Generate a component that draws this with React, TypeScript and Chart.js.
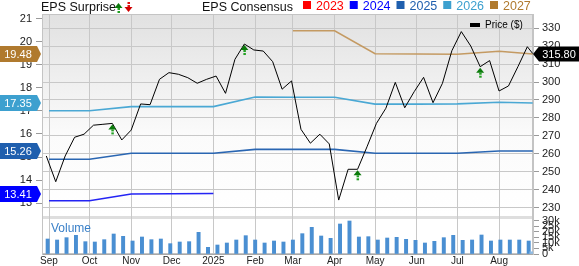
import React, { useEffect, useRef } from 'react';
import { Chart, registerables } from 'chart.js';

Chart.register(...registerables);

const FONT = "'Liberation Sans', Arial, Helvetica, sans-serif";

// ---------------- data ----------------
const monthTickDates = ['2024-09-01', '2024-10-01', '2024-11-01', '2024-12-01', '2025-01-01', '2025-02-01', '2025-03-01', '2025-04-01', '2025-05-01', '2025-06-01', '2025-07-01', '2025-08-01'];
const monthTickLabels = ['Sep', 'Oct', 'Nov', 'Dec', '2025', 'Feb', 'Mar', 'Apr', 'May', 'Jun', 'Jul', 'Aug'];

const priceTicks = [230, 240, 250, 260, 270, 280, 290, 300, 310, 320, 330];
const epsTicks = [13, 14, 15, 16, 17, 18, 19, 20, 21];
const volumeTicks = [0, 5000, 10000, 15000, 20000, 25000, 30000];
const volumeTickLabels = ['0', '5k', '10k', '15k', '20k', '25k', '30k'];

// weekly closing prices, first week and the last (partial week) date
const priceFirstWeek = '2024-08-30';
const priceLastDate = '2025-08-26';
const priceValues = [
  258.9, 244.6, 258.9, 269.3, 271.0, 276.0, 276.5, 277.0, 267.8, 273.3,
  287.8, 287.4, 301.5, 305.2, 304.3, 302.4, 299.3, 301.5, 303.3, 293.7,
  312.6, 321.1, 317.8, 317.2, 311.3, 296.0, 300.6, 273.7, 266.0, 271.0,
  265.6, 234.4, 251.5, 251.5, 264.0, 277.0, 285.4, 299.8, 285.7, 294.6,
  302.6, 288.5, 299.3, 317.4, 328.0, 320.0, 308.5, 311.9, 295.0, 297.8,
  308.5, 319.6, 315.80,
];

// weekly volume
const volumeFirstWeek = '2024-08-31';
const volumeLastDate = '2025-08-25';
const volumeValues = [
  13500, 12600, 14700, 16800, 11100, 10800, 12900, 18000, 15900, 11700,
  15300, 12900, 13500, 9300, 10800, 11100, 19500, 6000, 8100, 9900,
  12600, 16500, 12600, 9900, 11700, 10800, 12600, 18300, 24000, 16200,
  14100, 27000, 29700, 15300, 15600, 12600, 14400, 15000, 13200, 12300,
  9900, 11400, 14700, 16800, 12300, 12600, 17100, 11700, 12600, 12600,
  12600, 11700, 2000,
];

// EPS consensus (fiscal years)
const consensusDates = ['2024-09-01', '2024-10-01', '2024-11-01', '2024-12-01', '2025-01-01', '2025-02-01', '2025-03-01', '2025-04-01', '2025-05-01', '2025-06-01', '2025-07-01', '2025-08-01', '2025-08-26'];
const consensus2023: (number | null)[] = [null, null, null, null, null, null, null, null, null, null, null, null, null];
const consensus2024: (number | null)[] = [13.10, 13.10, 13.39, 13.40, 13.41, null, null, null, null, null, null, null, null];
const consensus2025: (number | null)[] = [14.90, 14.90, 15.16, 15.16, 15.16, 15.33, 15.33, 15.33, 15.16, 15.16, 15.16, 15.26, 15.26];
const consensus2026: (number | null)[] = [17.01, 17.01, 17.19, 17.19, 17.19, 17.61, 17.60, 17.60, 17.30, 17.30, 17.31, 17.38, 17.35];
const consensus2027: (number | null)[] = [null, null, null, null, null, null, 20.49, 20.49, 19.49, 19.48, 19.47, 19.60, 19.48];
const consensusYears = ['2023', '2024', '2025', '2026', '2027'];
const consensusSeries = [consensus2023, consensus2024, consensus2025, consensus2026, consensus2027];
const consensusTagColors = ['#ff0000', '#0000ff', '#1f5fae', '#3da0cf', '#b07a2e'];
const consensusLineColors = ['#ff0000', '#2424f4', '#2a66b2', '#4aa8d4', '#c49a62'];

// EPS surprises
const surpriseDates = ['2024-10-18', '2025-01-24', '2025-04-18', '2025-07-18'];
const surprisePrices = [277.0, 321.1, 251.5, 308.5];
const surpriseDirections = ['up', 'up', 'up', 'up'];

// ---------------- helpers ----------------
const BASE = Date.UTC(2024, 8, 1);
const day = (s: string) => {
  const [y, m, d] = s.split('-').map(Number);
  return (Date.UTC(y, m - 1, d) - BASE) / 86400000;
};

const X_MIN = -5.2;
const X_MAX = 359.2;
const PRICE_MIN = 204.44;
const PRICE_MAX = 337.78;
const EPS_MIN = 10.783;
const EPS_MAX = 21.217;
const VOL_MAX = 216000;
const MAIN_BOTTOM = 216;
const VOL_TOP = 219;

const priceData = priceValues.map((v, i) => ({
  x: i === priceValues.length - 1 ? day(priceLastDate) : day(priceFirstWeek) + 7 * i,
  y: v,
}));
const volumeData = volumeValues.map((v, i) => ({
  x: i === volumeValues.length - 1 ? day(volumeLastDate) : day(volumeFirstWeek) + 7 * i,
  y: v,
}));

function upArrow(ctx: CanvasRenderingContext2D, x: number, y: number) {
  ctx.fillStyle = '#0b7a0b';
  ctx.beginPath();
  ctx.moveTo(x, y);
  ctx.lineTo(x + 4, y + 5);
  ctx.lineTo(x - 4, y + 5);
  ctx.closePath();
  ctx.fill();
  ctx.fillStyle = '#22a022';
  ctx.fillRect(x - 1, y + 5, 2.5, 2);
  ctx.fillRect(x - 1, y + 8, 2.5, 2);
}
function downArrow(ctx: CanvasRenderingContext2D, x: number, y: number) {
  ctx.fillStyle = '#e01010';
  ctx.fillRect(x - 1, y - 10, 2.5, 2);
  ctx.fillRect(x - 1, y - 7, 2.5, 2);
  ctx.fillStyle = '#d00000';
  ctx.beginPath();
  ctx.moveTo(x, y);
  ctx.lineTo(x + 4, y - 5);
  ctx.lineTo(x - 4, y - 5);
  ctx.closePath();
  ctx.fill();
}

const decorPlugin = {
  id: 'decor',
  beforeDraw(chart: any) {
    const { ctx, chartArea: a } = chart;
    const w = a.right - a.left;
    ctx.save();
    const g = ctx.createLinearGradient(0, a.top, 0, MAIN_BOTTOM);
    g.addColorStop(0, '#e1e1e1');
    g.addColorStop(0.6, '#fbfbfb');
    g.addColorStop(1, '#ffffff');
    ctx.fillStyle = g;
    ctx.fillRect(a.left, a.top, w, MAIN_BOTTOM - a.top);
    ctx.fillStyle = '#dedede';
    ctx.fillRect(a.left, MAIN_BOTTOM, w, VOL_TOP - MAIN_BOTTOM);
    ctx.fillStyle = '#ffffff';
    ctx.fillRect(a.left, VOL_TOP, w, a.bottom - VOL_TOP);
    ctx.restore();
  },
  beforeDatasetsDraw(chart: any) {
    const { ctx, chartArea: a } = chart;
    ctx.save();
    ctx.strokeStyle = '#c4c4c4';
    ctx.lineWidth = 1;
    ctx.strokeRect(a.left + 0.5, a.top + 0.5, a.right - a.left - 1, a.bottom - a.top - 1);
    ctx.restore();
  },
  afterDatasetsDraw(chart: any) {
    const { ctx, scales } = chart;
    ctx.save();
    surpriseDates.forEach((d, i) => {
      const x = scales.x.getPixelForValue(day(d));
      const y = scales.price.getPixelForValue(surprisePrices[i]);
      if (surpriseDirections[i] === 'up') upArrow(ctx, x, y + 1);
      else downArrow(ctx, x, y - 1);
    });
    ctx.restore();
  },
  afterDraw(chart: any) {
    const { ctx, scales, chartArea: a } = chart;
    ctx.save();

    // volume axis labels (overlapping, as in the original)
    ctx.fillStyle = '#222222';
    ctx.font = `11px ${FONT}`;
    ctx.textAlign = 'left';
    ctx.textBaseline = 'middle';
    volumeTicks.forEach((v, i) => {
      const y = scales.vol.getPixelForValue(v);
      ctx.fillText(volumeTickLabels[i], a.right + 9, y);
    });

    consensusSeries.forEach((s, i) => {
      const vals = s.filter((v) => v !== null) as number[];
      if (!vals.length) return;
      const v = vals[vals.length - 1];
      const y = Math.round(scales.eps.getPixelForValue(v));
      ctx.fillStyle = consensusTagColors[i];
      ctx.beginPath();
      ctx.moveTo(0, y - 8);
      ctx.lineTo(37, y - 8);
      ctx.lineTo(41, y);
      ctx.lineTo(37, y + 8);
      ctx.lineTo(0, y + 8);
      ctx.closePath();
      ctx.fill();
      ctx.fillStyle = '#ffffff';
      ctx.font = `11px ${FONT}`;
      ctx.textAlign = 'center';
      ctx.fillText(v.toFixed(2), 18, y + 0.5);
    });
    const last = priceValues[priceValues.length - 1];
    const py = Math.round(scales.price.getPixelForValue(last));
    ctx.fillStyle = '#000000';
    ctx.beginPath();
    ctx.moveTo(a.right, py);
    ctx.lineTo(a.right + 6, py - 7.5);
    ctx.lineTo(579, py - 7.5);
    ctx.lineTo(579, py + 7.5);
    ctx.lineTo(a.right + 6, py + 7.5);
    ctx.closePath();
    ctx.fill();
    ctx.fillStyle = '#ffffff';
    ctx.font = `11px ${FONT}`;
    ctx.textAlign = 'center';
    ctx.fillText(last.toFixed(2), 559, py + 0.5);

    ctx.textAlign = 'left';
    ctx.textBaseline = 'alphabetic';
    ctx.fillStyle = '#111111';
    ctx.font = `12.5px ${FONT}`;
    ctx.fillText('EPS Surprise', 41, 11);
    upArrow(ctx, 118.5, 3);
    downArrow(ctx, 128.5, 12);
    ctx.fillStyle = '#111111';
    ctx.font = `12.5px ${FONT}`;
    ctx.fillText('EPS Consensus', 202, 11);
    consensusYears.forEach((yr, i) => {
      const x = 303 + 46.75 * i;
      ctx.fillStyle = consensusTagColors[i];
      ctx.fillRect(x, 1, 8, 8);
      ctx.font = `12.5px ${FONT}`;
      ctx.fillText(yr, x + 13, 10);
    });

    ctx.fillStyle = '#000000';
    ctx.fillRect(470, 23, 10, 4);
    ctx.font = `10px ${FONT}`;
    ctx.textBaseline = 'middle';
    ctx.fillText('Price ($)', 485, 25.5);

    ctx.fillStyle = '#3a80c8';
    ctx.font = `12px ${FONT}`;
    ctx.fillText('Volume', 51, 229);
    ctx.restore();
  },
};

export default function App() {
  const ref = useRef<HTMLCanvasElement>(null);
  useEffect(() => {
    const datasets: any[] = [
      {
        type: 'line',
        label: 'Price ($)',
        data: priceData,
        xAxisID: 'x',
        yAxisID: 'price',
        borderColor: '#000000',
        borderWidth: 1,
        pointRadius: 0,
        tension: 0,
        order: 0,
      },
    ];
    consensusSeries.forEach((s, i) => {
      const pts = consensusDates
        .map((d, j) => ({ x: day(d), y: s[j] }))
        .filter((p) => p.y !== null);
      if (!pts.length) return;
      datasets.push({
        type: 'line',
        label: consensusYears[i],
        data: pts,
        xAxisID: 'x',
        yAxisID: 'eps',
        borderColor: consensusLineColors[i],
        borderWidth: 1.6,
        pointRadius: 0,
        tension: 0,
        order: 1,
      });
    });
    datasets.push({
      type: 'bar',
      label: 'Volume',
      data: volumeData,
      xAxisID: 'x',
      yAxisID: 'vol',
      backgroundColor: volumeValues.map((_, i) => (i === volumeValues.length - 1 ? '#8fbbe3' : '#4a8fd2')),
      barThickness: 3.3,
      order: 2,
    });

    const chart = new Chart(ref.current as HTMLCanvasElement, {
      type: 'bar',
      data: { datasets },
      plugins: [decorPlugin],
      options: {
        animation: false,
        responsive: false,
        devicePixelRatio: 1,
        layout: { padding: { top: 14, left: 0, right: 0, bottom: 0 } },
        plugins: { legend: { display: false }, tooltip: { enabled: false } },
        scales: {
          x: {
            type: 'linear',
            position: 'bottom',
            offset: false,
            min: X_MIN,
            max: X_MAX,
            bounds: 'data',
            afterBuildTicks: (s: any) => {
              s.ticks = monthTickDates.map((d) => ({ value: day(d) }));
            },
            afterFit: (s: any) => {
              s.height = 12;
            },
            ticks: {
              autoSkip: false,
              maxRotation: 0,
              padding: 1,
              color: '#222222',
              font: { family: FONT, size: 10 },
              callback: (_v: any, i: number) => monthTickLabels[i],
            },
            grid: { color: '#c8c8c8', drawTicks: false, lineWidth: 1, offset: false },
            border: { color: '#a8a8a8' },
          },
          eps: {
            type: 'linear',
            position: 'left',
            min: EPS_MIN,
            max: EPS_MAX,
            bounds: 'data',
            afterBuildTicks: (s: any) => {
              s.ticks = epsTicks.map((v) => ({ value: v }));
            },
            afterFit: (s: any) => {
              s.width = 42;
            },
            ticks: { padding: 4, color: '#222222', font: { family: FONT, size: 11 }, callback: (v: any) => String(v) },
            grid: { drawOnChartArea: false, tickLength: 6, color: '#9a9a9a' },
            border: { color: '#c4c4c4' },
          },
          vol: {
            type: 'linear',
            position: 'right',
            weight: 0,
            min: 0,
            max: VOL_MAX,
            bounds: 'data',
            afterBuildTicks: (s: any) => {
              s.ticks = volumeTicks.map((v) => ({ value: v }));
            },
            afterFit: (s: any) => {
              s.width = 0;
            },
            ticks: { display: false },
            grid: { drawOnChartArea: false, tickLength: 6, color: '#9a9a9a' },
            border: { display: false },
          },
          price: {
            type: 'linear',
            position: 'right',
            weight: 1,
            min: PRICE_MIN,
            max: PRICE_MAX,
            bounds: 'data',
            afterBuildTicks: (s: any) => {
              s.ticks = priceTicks.map((v) => ({ value: v }));
            },
            afterFit: (s: any) => {
              s.width = 46;
            },
            ticks: { padding: 3, color: '#222222', font: { family: FONT, size: 11 }, callback: (v: any) => String(v) },
            grid: { color: '#c8c8c8', tickColor: '#9a9a9a', tickLength: 6 },
            border: { color: '#c4c4c4' },
          },
        },
      } as any,
    });
    return () => chart.destroy();
  }, []);

  return (
    <div style={{ position: 'absolute', left: 0, top: 0, width: 579, height: 266, background: '#ffffff' }}>
      <canvas ref={ref} width={579} height={266} style={{ display: 'block', width: 579, height: 266 }} />
    </div>
  );
}
